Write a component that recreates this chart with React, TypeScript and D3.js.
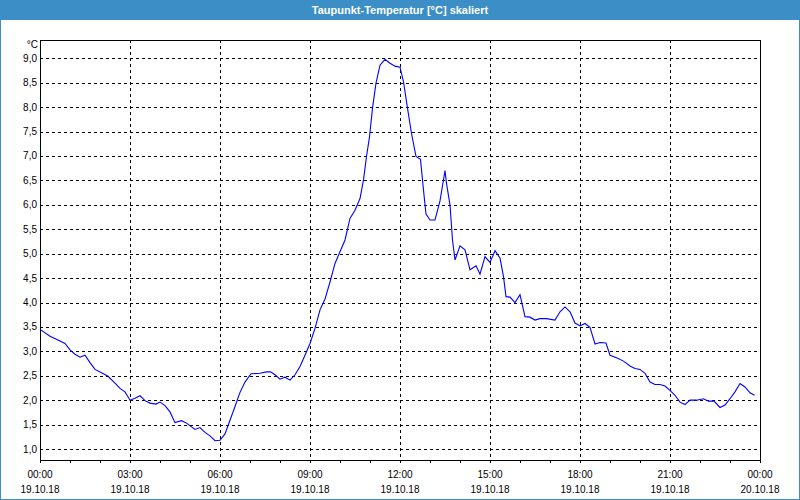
import React from "react";
import * as d3 from "d3";

const TITLE = "Taupunkt-Temperatur [°C] skaliert";
const UNIT = "°C";

// minutes since 19.10.18 00:00
const minutes = [
  0, 20, 40, 50, 60, 70, 80, 90, 100, 110, 123, 136, 150, 160, 170, 180, 190, 200, 210, 220,
  232, 240, 250, 260, 270, 283, 293, 310, 320, 330, 340, 350, 360, 370, 380, 390, 400, 410, 422, 440,
  453, 461, 470, 480, 490, 500, 510, 520, 530, 540, 550, 560, 570, 580, 590, 600, 610, 620, 630, 640,
  647, 653, 659, 665, 672, 680, 690, 700, 710, 720, 727, 735, 743, 752, 761, 767, 772, 780, 790, 800,
  810, 813, 820, 825, 830, 840, 850, 860, 872, 880, 890, 900, 910, 920, 927, 932, 940, 950, 960, 970,
  980, 990, 1000, 1013, 1030, 1040, 1050, 1060, 1070, 1080, 1090, 1100, 1110, 1120, 1132, 1140, 1153, 1167, 1180, 1190,
  1200, 1210, 1220, 1230, 1240, 1250, 1260, 1270, 1280, 1290, 1300, 1313, 1327, 1337, 1348, 1360, 1370, 1380, 1390, 1400,
  1410, 1420, 1429,
];
const dewPoint = [
  3.45, 3.31, 3.21, 3.16, 3.03, 2.94, 2.88, 2.92, 2.77, 2.63, 2.56, 2.49, 2.35, 2.24, 2.17, 2.0, 2.04, 2.09, 1.99, 1.94,
  1.92, 1.96, 1.89, 1.76, 1.54, 1.58, 1.53, 1.4, 1.44, 1.34, 1.27, 1.17, 1.18, 1.31, 1.59, 1.87, 2.16, 2.37, 2.54, 2.55,
  2.58, 2.58, 2.52, 2.43, 2.47, 2.41, 2.52, 2.69, 2.92, 3.16, 3.47, 3.85, 4.07, 4.42, 4.8, 5.04, 5.28, 5.72, 5.89, 6.13,
  6.51, 6.99, 7.39, 7.98, 8.49, 8.86, 8.98, 8.9, 8.84, 8.82, 8.52, 7.98, 7.46, 6.99, 6.93, 6.3, 5.81, 5.69, 5.69, 6.08,
  6.7, 6.44, 6.0, 5.28, 4.87, 5.16, 5.08, 4.67, 4.75, 4.58, 4.94, 4.82, 5.06, 4.91, 4.53, 4.12, 4.11, 4.0, 4.16, 3.71,
  3.7, 3.64, 3.67, 3.67, 3.64, 3.81, 3.91, 3.81, 3.58, 3.52, 3.57, 3.49, 3.15, 3.18, 3.17, 2.92, 2.87, 2.8, 2.7, 2.65,
  2.63, 2.55, 2.37, 2.32, 2.32, 2.29, 2.2, 2.1, 1.96, 1.91, 2.0, 2.0, 2.03, 1.98, 1.98, 1.85, 1.9, 2.03, 2.17, 2.34,
  2.27, 2.15, 2.1,
];

const yTicks = [1.0, 1.5, 2.0, 2.5, 3.0, 3.5, 4.0, 4.5, 5.0, 5.5, 6.0, 6.5, 7.0, 7.5, 8.0, 8.5, 9.0];
const xTickHours = [0, 3, 6, 9, 12, 15, 18, 21, 24];
const xTimeLabels = ["00:00", "03:00", "06:00", "09:00", "12:00", "15:00", "18:00", "21:00", "00:00"];
const xDateLabels = ["19.10.18", "19.10.18", "19.10.18", "19.10.18", "19.10.18", "19.10.18", "19.10.18", "19.10.18", "20.10.18"];
const yDomain = [0.775, 9.375];

const W = 800;
const H = 500;
const left = 40, right = 760, top = 40, bottom = 460;
const FONT = "'Liberation Sans', Arial, sans-serif";

export default function App() {
  const x = d3.scaleLinear().domain([0, 24 * 60]).range([left, right]);
  const y = d3.scaleLinear().domain(yDomain).range([bottom, top]);
  const pts: [number, number][] = minutes.map((m, i) => [m, dewPoint[i]]);
  const line = d3.line<[number, number]>().x((d) => x(d[0])).y((d) => y(d[1]));
  const hours = d3.range(0, 25);
  const fmt = (v: number) => v.toFixed(1).replace(".", ",");
  const snap = (v: number) => Math.round(v) + 0.5;

  return (
    <svg width={W} height={H} style={{ position: "absolute", left: 0, top: 0, display: "block" }}>
      <rect x={0} y={0} width={W} height={H} fill="#3c8fc6" />
      <rect x={1} y={20} width={W - 2} height={H - 21} fill="#ffffff" />
      <text x={W / 2} y={10} fill="#ffffff" fontFamily={FONT} fontWeight="bold" fontSize={11}
        textAnchor="middle" dominantBaseline="central">{TITLE}</text>

      {/* horizontal grid */}
      {yTicks.map((t) => (
        <line key={"h" + t} x1={left} x2={right} y1={snap(y(t))} y2={snap(y(t))}
          stroke="#000" strokeWidth={1} strokeDasharray="3,3" shapeRendering="crispEdges" />
      ))}
      {/* vertical grid */}
      {xTickHours.slice(1, -1).map((h) => (
        <line key={"v" + h} x1={snap(x(h * 60))} x2={snap(x(h * 60))} y1={top} y2={bottom}
          stroke="#000" strokeWidth={1} strokeDasharray="3,3" shapeRendering="crispEdges" />
      ))}
      {/* minor ticks */}
      {hours.map((h) => (
        <line key={"t" + h} x1={snap(x(h * 60))} x2={snap(x(h * 60))} y1={bottom} y2={bottom + 3}
          stroke="#000" strokeWidth={1} shapeRendering="crispEdges" />
      ))}
      {/* frame */}
      <rect x={left + 0.5} y={top + 0.5} width={right - left} height={bottom - top}
        fill="none" stroke="#000" strokeWidth={1} shapeRendering="crispEdges" />

      {/* data line */}
      <path d={line(pts) || ""} fill="none" stroke="#0000ff" strokeWidth={1.1} />

      {/* y labels */}
      {yTicks.map((t) => (
        <text key={"yl" + t} x={37} y={y(t)} textAnchor="end" dominantBaseline="central"
          fontFamily={FONT} fontSize={10} fill="#000">{fmt(t)}</text>
      ))}
      <text x={38} y={44} textAnchor="end" dominantBaseline="central" fontFamily={FONT} fontSize={10} fill="#000">{UNIT}</text>

      {/* x labels */}
      {xTickHours.map((h, i) => (
        <g key={"xl" + h}>
          <text x={x(h * 60)} y={474} textAnchor="middle" dominantBaseline="central"
            fontFamily={FONT} fontSize={10} fill="#000">{xTimeLabels[i]}</text>
          <text x={x(h * 60)} y={489} textAnchor="middle" dominantBaseline="central"
            fontFamily={FONT} fontSize={10} fill="#000">{xDateLabels[i]}</text>
        </g>
      ))}
    </svg>
  );
}
